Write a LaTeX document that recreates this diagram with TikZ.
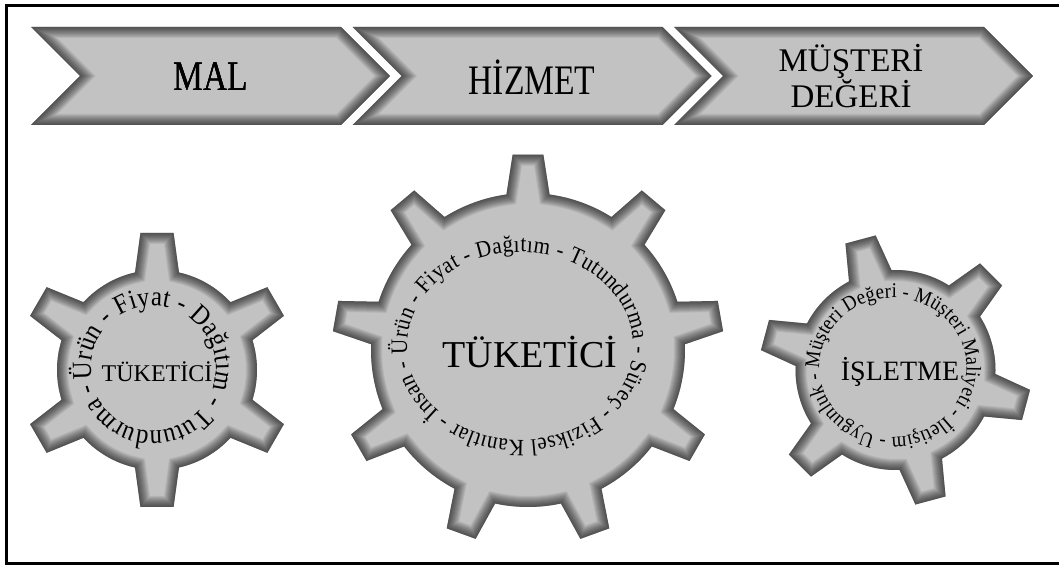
\documentclass[tikz,border=0pt]{standalone}
\usepackage{fontspec}
\setmainfont{Liberation Serif}
\newfontfamily\chevfont[FakeStretch=0.8]{Liberation Serif}
\newfontfamily\ringfont[FakeStretch=0.9]{Liberation Serif}
\usetikzlibrary{decorations.text}
\definecolor{panelgray}{gray}{0.76}

% gear outline: teeth, first tooth angle, root radius, tip radius, root half angle, tip half angle
\newcommand{\gearpath}[6]{(#2-#5:#3)
  \foreach \k [evaluate=\k as \t using #2+360*(\k-1)/#1] in {1,...,#1} {
    -- (\t-#5:#3) -- (\t-#6:#4) -- (\t+#6:#4) -- (\t+#5:#3)
    arc[start angle=\t+#5, delta angle=360/#1-2*#5, radius=#3]} -- cycle}

% grey fill with a dark inner rim
\newcommand{\shadedpanel}[1]{%
  \fill[panelgray] #1;
  \begin{scope}
    \clip #1;
    \foreach \w in {2,4,...,22}
      \draw[line width=\w, black, opacity=0.07] #1;
  \end{scope}}

\begin{document}
\begin{tikzpicture}[x=1pt, y=1pt,
    chevtext/.style={font=\chevfont\fontsize{42}{36}\selectfont, align=center, inner sep=0pt},
    chevpair/.style={font=\fontsize{33}{25}\selectfont, align=center, inner sep=0pt},
    hubtext/.style={font=\fontsize{#1}{#1}\selectfont, inner sep=0pt},
    ringtext/.style 2 args={decorate, decoration={text along path, text align={fit to path},
        text={|\ringfont\fontsize{#1}{#1}\selectfont|#2}}}
]
    \useasboundingbox (0,0) rectangle (1059,565);
    \draw[line width=3] (6.5,1.5) rectangle (1065,559.5);

    % arrows on top
    \foreach \x in {31, 352.5, 674}
        \shadedpanel{(\x,538) -- ++(310,0) -- ++(49,-49) -- ++(-49,-49) -- ++(-310,0) -- ++(49,49) -- cycle}
    \node[chevtext] (mal) at (210.5,488) {MAL};
    \node[chevtext] (hizmet) at (532,488) {HİZMET};
    \node[chevpair] (deger) at (851,489) {MÜŞTERİ\\DEĞERİ};

    % left gear
    \begin{scope}[shift={(157,195)}]
        \shadedpanel{\gearpath{6}{90}{100}{138}{12.7}{6.9}}
    \end{scope}
    \node[hubtext=24] (hubA) at (157,193.5) {TÜKETİCİ};
    \path[ringtext={27.5}{Ürün - Fiyat - Dağıtım - Tutundurma -}]
        (153.5,196.5) ++(190:62.5) arc[start angle=190, delta angle=-356, radius=62.5];

    % middle gear
    \begin{scope}[shift={(528,215)}]
        \shadedpanel{\gearpath{9}{90}{157}{196}{7.9}{4.5}}
    \end{scope}
    \node[hubtext=38] (hubB) at (530,212.5) {TÜKETİCİ};
    \path[ringtext={23.5}{Ürün - Fiyat - Dağıtım - Tutundurma - Süreç - Fiziksel Kanıtlar - İnsan -}]
        (520,219) ++(185:113 and 94) arc[start angle=185, delta angle=-356, x radius=113, y radius=94];

    % right gear
    \begin{scope}[shift={(895.5,195)}]
        \shadedpanel{\gearpath{6}{105}{100}{136}{12.7}{6.6}}
    \end{scope}
    \node[hubtext=28] (hubC) at (900,193) {İŞLETME};
    \path[ringtext={21}{Müşteri Değeri - Müşteri Maliyeti - İletişim - Uygunluk -}]
        (893,197.5) ++(181:73.5 and 69.5) arc[start angle=181, delta angle=-356, x radius=73.5, y radius=69.5];
\end{tikzpicture}
\end{document}
